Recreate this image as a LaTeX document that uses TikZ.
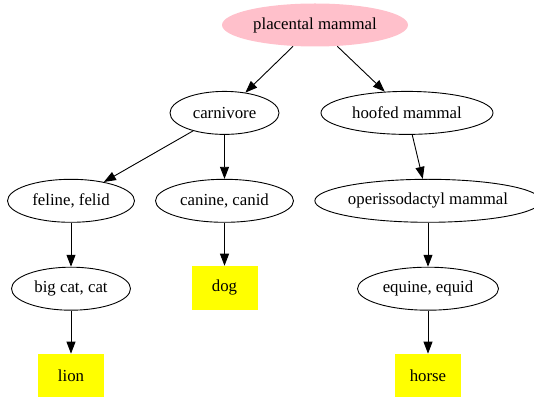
\documentclass[tikz,border=0pt]{standalone}
\usepackage{fontspec}
\setmainfont{Liberation Serif}
\usetikzlibrary{positioning,arrows.meta,shapes.geometric}

\definecolor{mammalpink}{HTML}{FFC0CB}
\definecolor{leafyellow}{HTML}{FFFF00}

\begin{document}
\begin{tikzpicture}[
        x=1pt, y=1pt,
        kind/.style={ellipse, draw, line width=0.9pt, inner sep=0pt, minimum width=#1, minimum height=43pt, font=\fontsize{16.8}{20}\selectfont},
        species/.style={rectangle, fill=leafyellow, minimum width=66pt, minimum height=44pt, font=\fontsize{16.8}{20}\selectfont},
        arrow/.style={-{Triangle[length=12pt,width=9pt]}, line width=0.9pt}
    ]
    \useasboundingbox (0,0) rectangle (534,396);

    % Kinds of mammal
    \node[kind=186pt, draw=none, fill=mammalpink] (placental) at (315,371) {placental mammal};
    \node[kind=109pt, below=44pt of placental, xshift=-90.5pt] (carnivore) {carnivore};
    \node[kind=172pt, below=44pt of placental, xshift=92pt] (hoofed) {hoofed mammal};
    \node[kind=127pt, below=44pt of carnivore, xshift=-153.5pt] (feline) {feline, felid};
    \node[kind=138pt, below=44pt of carnivore] (canine) {canine, canid};
    \node[kind=226pt, below=44pt of hoofed, xshift=21pt] (odd) {operissodactyl mammal};
    \node[kind=119pt, below=44pt of feline] (bigcat) {big cat, cat};
    \node[kind=141pt, below=44pt of odd] (equine) {equine, equid};

    % Species
    \node[species, below=43pt of canine] (dog) {dog};
    \node[species, below=43pt of bigcat] (lion) {lion};
    \node[species, below=43pt of equine] (horse) {horse};

    % Relationships
    \draw[arrow] (placental) -- (carnivore);
    \draw[arrow] (placental) -- (hoofed);
    \draw[arrow] (carnivore) -- (feline);
    \draw[arrow] (carnivore) -- (canine);
    \draw[arrow] (hoofed) -- (odd);
    \draw[arrow] (feline) -- (bigcat);
    \draw[arrow] (canine) -- (dog);
    \draw[arrow] (odd) -- (equine);
    \draw[arrow] (bigcat) -- (lion);
    \draw[arrow] (equine) -- (horse);

    \end{tikzpicture}
\end{document}
